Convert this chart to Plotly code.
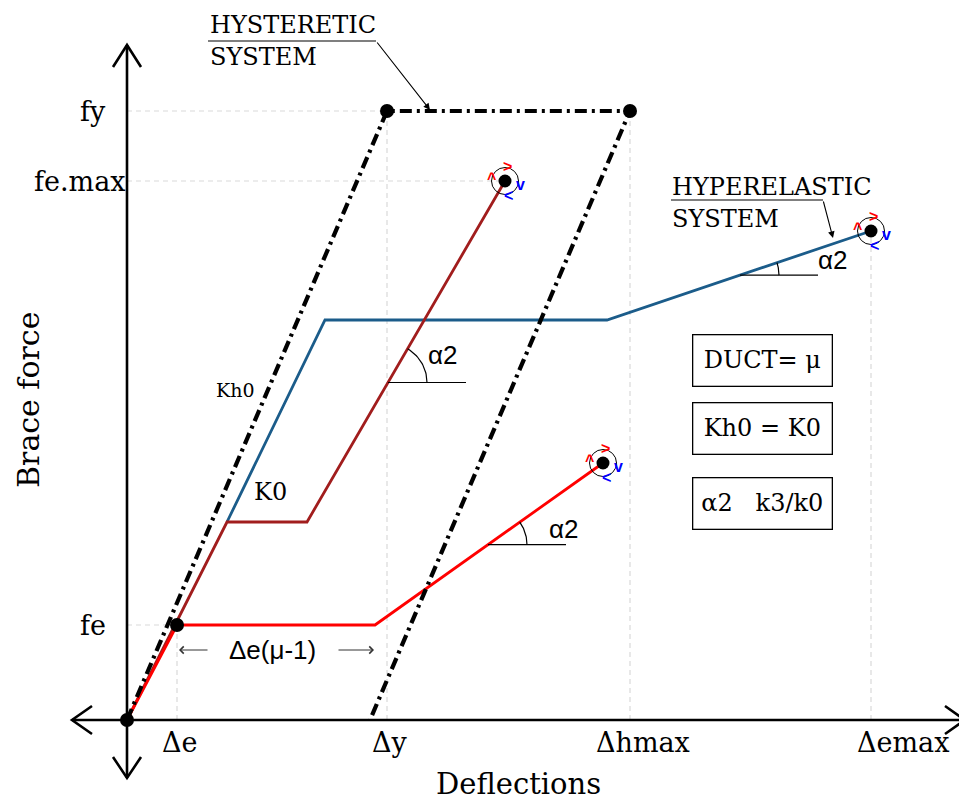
import numpy as np
import plotly.graph_objects as go

# ---------------- data (schematic units: 1 unit = 10 px) ----------------
x_tick_vals = [5.0, 26.0, 50.3, 74.4]
x_tick_text = ["Δe", "Δy", "Δhmax", "Δemax"]
y_tick_vals = [9.5, 53.9, 60.9]
y_tick_text = ["fe", "fe.max", "fy"]

hyst_x = [0.0, 26.0, 50.3, 24.3]
hyst_y = [0.0, 60.9, 60.9, 0.0]

red_x = [0.0, 5.0, 24.8, 47.6]
red_y = [0.0, 9.5, 9.5, 25.7]

dred_x = [0.0, 10.0, 18.0, 37.8]
dred_y = [0.0, 19.8, 19.8, 53.9]

blue_x = [10.0, 19.8, 48.0, 74.4]
blue_y = [19.8, 40.0, 40.0, 48.9]

box_texts = ["DUCT= μ", "Kh0 = K0", "α2   k3/k0"]

# ---------------- style ----------------
SERIF = "DejaVu Serif"
SANS = "Liberation Sans"
RED = "#ff0000"
DRED = "#a11d1d"
BLUE = "#1b5c8a"
GUIDE = "#d9d9d9"

fig = go.Figure()

# guide (dashed) lines from ticks to the curve points
guides = [
    ([0, hyst_x[1]], [hyst_y[1]] * 2),
    ([0, dred_x[-1]], [dred_y[-1]] * 2),
    ([0, red_x[1]], [red_y[1]] * 2),
    ([red_x[1]] * 2, [0, red_y[1]]),
    ([hyst_x[1]] * 2, [0, hyst_y[1]]),
    ([hyst_x[2]] * 2, [0, hyst_y[2]]),
    ([blue_x[-1]] * 2, [0, blue_y[-1]]),
]
for gx, gy in guides:
    fig.add_trace(go.Scatter(x=gx, y=gy, mode="lines", hoverinfo="skip",
                             line=dict(color=GUIDE, width=1.2, dash="5px,4px"),
                             showlegend=False))

# curves
fig.add_trace(go.Scatter(x=blue_x, y=blue_y, mode="lines",
                         line=dict(color=BLUE, width=2.8), showlegend=False))
fig.add_trace(go.Scatter(x=dred_x, y=dred_y, mode="lines",
                         line=dict(color=DRED, width=2.8), showlegend=False))
fig.add_trace(go.Scatter(x=red_x, y=red_y, mode="lines",
                         line=dict(color=RED, width=2.8), showlegend=False))
fig.add_trace(go.Scatter(x=hyst_x, y=hyst_y, mode="lines",
                         line=dict(color="black", width=4.2, dash="12px,5px,3px,5px"),
                         showlegend=False))

# black dots
dots_x = [0, red_x[1], hyst_x[1], hyst_x[2]]
dots_y = [0, red_y[1], hyst_y[1], hyst_y[2]]
fig.add_trace(go.Scatter(x=dots_x, y=dots_y, mode="markers",
                         marker=dict(color="black", size=14), showlegend=False))

ends_x = [dred_x[-1], red_x[-1], blue_x[-1]]
ends_y = [dred_y[-1], red_y[-1], blue_y[-1]]
fig.add_trace(go.Scatter(x=ends_x, y=ends_y, mode="markers",
                         marker=dict(color="black", size=13), showlegend=False))
fig.add_trace(go.Scatter(x=ends_x, y=ends_y, mode="markers",
                         marker=dict(symbol="circle-open", color="black", size=27,
                                     line=dict(width=1)), showlegend=False))

annotations = []
# rotation chevrons around end points
for ex, ey in zip(ends_x, ends_y):
    for txt, col, dx, dy in [(">", RED, 2, 15), ("^", RED, -14, 3),
                             ("v", "blue", 15, -3), ("<", "blue", 3, -14)]:
        annotations.append(dict(x=ex, y=ey, text="<b>%s</b>" % txt, showarrow=False,
                                xshift=dx, yshift=dy,
                                font=dict(family=SANS, size=16, color=col)))

# alpha2 angle marks
def angle_mark(seg_x, seg_y, vx, text_dx, text_dy):
    vy = float(np.interp(vx, seg_x, seg_y))
    ang = np.arctan2(seg_y[1] - seg_y[0], seg_x[1] - seg_x[0])
    fig.add_trace(go.Scatter(x=[vx, vx + 7.8], y=[vy, vy], mode="lines",
                             line=dict(color="black", width=1.2), showlegend=False))
    t = np.linspace(0, ang, 30)
    r = 3.9
    fig.add_trace(go.Scatter(x=vx + r * np.cos(t), y=vy + r * np.sin(t), mode="lines",
                             line=dict(color="black", width=1.2), showlegend=False))
    annotations.append(dict(x=vx + text_dx, y=vy + text_dy, text="α2", showarrow=False,
                            font=dict(family=SANS, size=26, color="black")))

angle_mark(dred_x[2:], dred_y[2:], 26.1, 5.5, 2.8)
angle_mark(red_x[2:], red_y[2:], 36.1, 7.6, 1.6)
angle_mark(blue_x[2:], blue_y[2:], 61.3, 9.3, 1.5)

# tick labels
y_lab_x = [-1.9, 0.0, -1.9]
for v, t, lx in zip(y_tick_vals, y_tick_text, y_lab_x):
    annotations.append(dict(x=lx, y=v, text=t, showarrow=False, xanchor="right",
                            font=dict(family=SERIF, size=27, color="black")))
x_lab_x = [5.2, 26.2, 51.6, 77.6]
for v, t, lx in zip(x_tick_vals, x_tick_text, x_lab_x):
    annotations.append(dict(x=lx, y=-2.2, text=t, showarrow=False,
                            font=dict(family=SERIF, size=27, color="black")))

# axis titles
annotations.append(dict(x=39.1, y=-6.4, text="Deflections", showarrow=False,
                        font=dict(family=SERIF, size=29, color="black")))
annotations.append(dict(x=-9.9, y=32.0, text="Brace force", showarrow=False, textangle=-90,
                        font=dict(family=SERIF, size=30, color="black")))

# system labels
for txt, lx, ly in [("HYSTERETIC", 8.1, 69.5), ("SYSTEM", 8.1, 66.3),
                    ("HYPERELASTIC", 54.3, 53.3), ("SYSTEM", 54.3, 50.1)]:
    annotations.append(dict(x=lx, y=ly, text=txt, showarrow=False, xanchor="left",
                            font=dict(family=SERIF, size=24, color="black")))
fig.add_trace(go.Scatter(x=[8.1, 24.9], y=[67.9, 67.9], mode="lines",
                         line=dict(color="black", width=1.2), showlegend=False))
fig.add_trace(go.Scatter(x=[54.4, 69.6], y=[52.0, 52.0], mode="lines",
                         line=dict(color="black", width=1.2), showlegend=False))
annotations.append(dict(x=30.3, y=61.0, ax=24.9, ay=67.9, axref="x", ayref="y",
                        xref="x", yref="y", text="", showarrow=True,
                        arrowhead=2, arrowsize=1.2, arrowwidth=1.1, arrowcolor="black"))
annotations.append(dict(x=70.6, y=48.2, ax=69.6, ay=52.0, axref="x", ayref="y",
                        xref="x", yref="y", text="", showarrow=True,
                        arrowhead=2, arrowsize=1.2, arrowwidth=1.1, arrowcolor="black"))

# stiffness labels
annotations.append(dict(x=10.8, y=33.0, text="Kh0", showarrow=False,
                        font=dict(family=SERIF, size=19, color="black")))
annotations.append(dict(x=14.3, y=22.8, text="K0", showarrow=False,
                        font=dict(family=SERIF, size=24, color="black")))

# ductility span
annotations.append(dict(x=14.5, y=7.0, text="Δe(μ-1)", showarrow=False,
                        font=dict(family=SANS, size=26, color="black")))
annotations.append(dict(x=5.2, y=7.0, ax=8.2, ay=7.0, axref="x", ayref="y",
                        text="", showarrow=True, arrowhead=4, arrowsize=1.4,
                        arrowwidth=1, arrowcolor="#333333"))
annotations.append(dict(x=24.7, y=7.0, ax=21.0, ay=7.0, axref="x", ayref="y",
                        text="", showarrow=True, arrowhead=4, arrowsize=1.4,
                        arrowwidth=1, arrowcolor="#333333"))

# boxes
for t, by in zip(box_texts, [36.0, 29.2, 21.7]):
    annotations.append(dict(x=63.5, y=by, text=t, showarrow=False, width=138, height=50,
                            bordercolor="black", borderwidth=1.3, borderpad=0,
                            bgcolor="white",
                            font=dict(family=SERIF, size=24, color="black")))

# axes with open arrow heads
shapes = [
    dict(type="line", x0=0, x1=0, y0=-5.8, y1=67.5, line=dict(color="black", width=2.6)),
    dict(type="line", x0=-5.5, x1=83.8, y0=0, y1=0, line=dict(color="black", width=2.6)),
    dict(type="path", path="M -1.4 65.3 L 0 67.5 L 1.4 65.3", line=dict(color="black", width=2.6)),
    dict(type="path", path="M -1.4 -3.7 L 0 -5.8 L 1.4 -3.7", line=dict(color="black", width=2.6)),
    dict(type="path", path="M -3.5 1.4 L -5.5 0 L -3.5 -1.4", line=dict(color="black", width=2.6)),
    dict(type="path", path="M 81.8 1.4 L 83.8 0 L 81.8 -1.4", line=dict(color="black", width=2.6)),
]

# page body has an 8 px margin: figure is 959x792 so it fits the 967x800 window
fig.update_layout(
    width=959, height=792,
    margin=dict(l=0, r=0, t=0, b=0),
    paper_bgcolor="white", plot_bgcolor="white",
    xaxis=dict(range=[-11.9, 84.0], visible=False, fixedrange=True),
    yaxis=dict(range=[-8.0, 71.2], visible=False, fixedrange=True),
    annotations=annotations,
    shapes=shapes,
    showlegend=False,
)

fig.write_html("out.html")
